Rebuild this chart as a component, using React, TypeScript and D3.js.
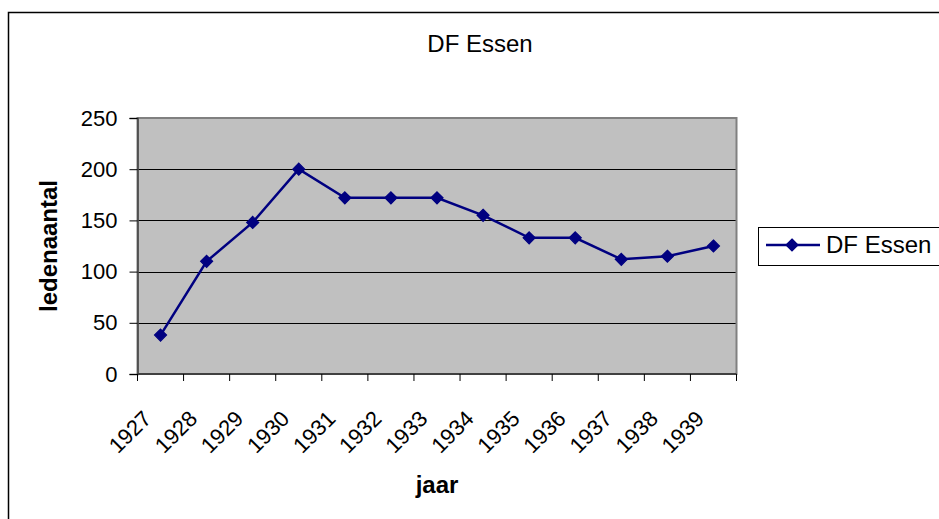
import * as d3 from "d3";
import { useEffect, useRef } from "react";

const years = ["1927", "1928", "1929", "1930", "1931", "1932", "1933", "1934", "1935", "1936", "1937", "1938", "1939"];
const members = [38, 110, 148, 200, 172, 172, 172, 155, 133, 133, 112, 115, 125];
const yTicks = [0, 50, 100, 150, 200, 250];
const seriesName = "DF Essen";

const W = 939;
const H = 519;
const FONT = "'Liberation Sans', Arial, sans-serif";
const NAVY = "#000080";

const App = () => {
  const svgRef = useRef<SVGSVGElement | null>(null);

  useEffect(() => {
    const svg = d3.select(svgRef.current);
    svg.selectAll("*").remove();

    const left = 137.5;
    const right = 736.5;
    const top = 118;
    const bottom = 374;

    // outer chart border
    svg
      .append("rect")
      .attr("x", 8.5)
      .attr("y", 12.5)
      .attr("width", W)
      .attr("height", H)
      .attr("fill", "white")
      .attr("stroke", "#000")
      .attr("stroke-width", 1.5);

    const x = d3.scaleBand().domain(years).range([left, right]);
    const y = d3.scaleLinear().domain([0, 250]).range([bottom, top]);

    // plot area
    svg
      .append("rect")
      .attr("x", left)
      .attr("y", top)
      .attr("width", right - left)
      .attr("height", bottom - top)
      .attr("fill", "#c0c0c0");

    // gridlines
    svg
      .append("g")
      .selectAll("line")
      .data(yTicks.filter((t) => t > 0))
      .enter()
      .append("line")
      .attr("x1", left)
      .attr("x2", right)
      .attr("y1", (d) => Math.round(y(d)) + 0.5)
      .attr("y2", (d) => Math.round(y(d)) + 0.5)
      .attr("stroke", "#000")
      .attr("stroke-width", 1);

    svg
      .append("rect")
      .attr("x", left)
      .attr("y", top)
      .attr("width", right - left)
      .attr("height", bottom - top)
      .attr("fill", "none")
      .attr("stroke", "#808080")
      .attr("stroke-width", 2);

    // y axis
    const yAxis = svg
      .append("g")
      .attr("transform", `translate(${left},0)`)
      .call(d3.axisLeft(y).tickValues(yTicks).tickSize(8).tickPadding(12));
    yAxis.select(".domain").attr("stroke", "#404040").attr("stroke-width", 1.5);
    yAxis.selectAll(".tick line").attr("stroke", "#000");
    yAxis
      .selectAll(".tick text")
      .attr("font-family", FONT)
      .attr("font-size", 22)
      .attr("fill", "#000");

    // x axis: ticks on category boundaries
    const xAxis = svg.append("g").attr("transform", `translate(0,${bottom})`);
    xAxis
      .append("line")
      .attr("x1", left)
      .attr("x2", right)
      .attr("stroke", "#404040")
      .attr("stroke-width", 2);
    const bounds = years.map((d) => x(d) as number).concat([right]);
    xAxis
      .selectAll("line.tk")
      .data(bounds)
      .enter()
      .append("line")
      .attr("class", "tk")
      .attr("x1", (d) => d)
      .attr("x2", (d) => d)
      .attr("y1", 0)
      .attr("y2", 7)
      .attr("stroke", "#000");
    xAxis
      .selectAll("text")
      .data(years)
      .enter()
      .append("text")
      .attr(
        "transform",
        (d) => `translate(${(x(d) as number) + x.bandwidth() / 2 - 8},46) rotate(-45)`
      )
      .attr("text-anchor", "end")
      .attr("font-family", FONT)
      .attr("font-size", 22)
      .attr("fill", "#000")
      .text((d) => d);

    // line + markers
    const cx = (i: number) => (x(years[i]) as number) + x.bandwidth() / 2;
    const line = d3
      .line<number>()
      .x((_, i) => cx(i))
      .y((d) => y(d));
    svg
      .append("path")
      .datum(members)
      .attr("d", line)
      .attr("fill", "none")
      .attr("stroke", NAVY)
      .attr("stroke-width", 2.5);

    const diamond = d3.symbol().type(d3.symbolDiamond2).size(92);
    svg
      .append("g")
      .selectAll("path")
      .data(members)
      .enter()
      .append("path")
      .attr("d", diamond)
      .attr("transform", (d, i) => `translate(${cx(i)},${y(d)})`)
      .attr("fill", NAVY)
      .attr("stroke", NAVY)
      .attr("stroke-width", 1.2);

    // titles
    svg
      .append("text")
      .attr("x", 480)
      .attr("y", 52)
      .attr("text-anchor", "middle")
      .attr("font-family", FONT)
      .attr("font-size", 24)
      .text(seriesName);

    svg
      .append("text")
      .attr("x", (left + right) / 2)
      .attr("y", 493)
      .attr("text-anchor", "middle")
      .attr("font-family", FONT)
      .attr("font-size", 24)
      .attr("font-weight", "bold")
      .text("jaar");

    svg
      .append("text")
      .attr("transform", `translate(57,${(top + bottom) / 2}) rotate(-90)`)
      .attr("text-anchor", "middle")
      .attr("font-family", FONT)
      .attr("font-size", 24)
      .attr("font-weight", "bold")
      .text("ledenaantal");

    // legend
    const lg = svg.append("g");
    lg.append("rect")
      .attr("x", 758.5)
      .attr("y", 227.5)
      .attr("width", 200)
      .attr("height", 38)
      .attr("fill", "white")
      .attr("stroke", "#000")
      .attr("stroke-width", 1);
    lg.append("line")
      .attr("x1", 766)
      .attr("x2", 820)
      .attr("y1", 245)
      .attr("y2", 245)
      .attr("stroke", NAVY)
      .attr("stroke-width", 2.5);
    lg.append("path")
      .attr("d", diamond)
      .attr("transform", "translate(792,245)")
      .attr("fill", NAVY)
      .attr("stroke", NAVY)
      .attr("stroke-width", 1.2);
    lg.append("text")
      .attr("x", 826)
      .attr("y", 253)
      .attr("font-family", FONT)
      .attr("font-size", 24)
      .text(seriesName);
  }, []);

  return (
    <svg
      ref={svgRef}
      width={W}
      height={H}
      style={{ position: "absolute", left: 0, top: 0, background: "white" }}
    />
  );
};

export default App;
